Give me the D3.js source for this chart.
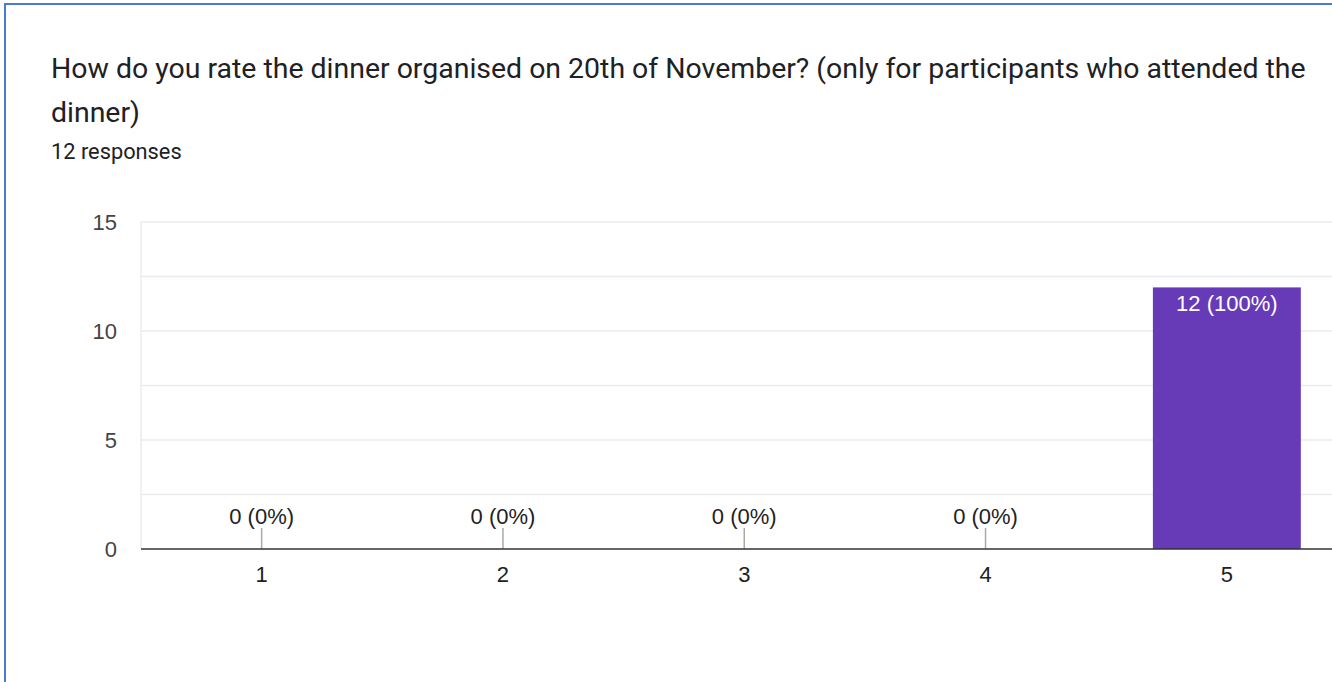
<!DOCTYPE html>
<html>
<head>
<meta charset="utf-8">
<script src="https://cdn.jsdelivr.net/npm/d3@7"></script>
<style>
  body { margin: 0; background: #fff; }
  svg { display: block; }
</style>
</head>
<body>
<div id="chart"></div>
<script>
const titleLines = [
  "How do you rate the dinner organised on 20th of November? (only for participants who attended the",
  "dinner)"
];
const subtitle = "12 responses";

const categories = ["1", "2", "3", "4", "5"];
const counts = [0, 0, 0, 0, 12];
const yTicks = [0, 5, 10, 15];
const gridValues = [2.5, 5, 7.5, 10, 12.5, 15];

const total = d3.sum(counts);
const data = categories.map((c, i) => ({ cat: c, value: counts[i] }));

const W = 1332, H = 682;
const margin = { top: 222, left: 141, bottom: 133 };
const width = 241.3 * 5,
  height = H - margin.top - margin.bottom;

const svg = d3.select("#chart").append("svg")
  .attr("width", W)
  .attr("height", H);

// card border
svg.append("rect")
  .attr("x", 5).attr("y", 4)
  .attr("width", W + 20).attr("height", H + 20)
  .attr("fill", "none")
  .attr("stroke", "#4a7bd0")
  .attr("stroke-width", 2);

// title
svg.append("g")
  .selectAll("text")
  .data(titleLines)
  .enter()
  .append("text")
  .attr("x", 51)
  .attr("y", (d, i) => 78 + i * 44)
  .attr("font-family", "Roboto")
  .attr("font-size", 28.45)
  .attr("fill", "#202124")
  .text(d => d);

svg.append("text")
  .attr("x", 51).attr("y", 159)
  .attr("font-family", "Roboto")
  .attr("font-size", 21.8)
  .attr("fill", "#202124")
  .text(subtitle);

const g = svg.append("g")
  .attr("transform", "translate(" + margin.left + "," + margin.top + ")");

const x = d3.scaleBand().domain(categories).range([0, width]).paddingInner(0.387).paddingOuter(0.1935);
const y = d3.scaleLinear().domain([0, 15]).range([height, 0]);

// gridlines
g.selectAll(".grid")
  .data(gridValues)
  .enter()
  .append("line")
  .attr("x1", 0).attr("x2", width)
  .attr("y1", d => y(d)).attr("y2", d => y(d))
  .attr("stroke", "#ebebeb")
  .attr("stroke-width", 1.5);

g.append("line")
  .attr("x1", 0).attr("x2", 0)
  .attr("y1", 0).attr("y2", height)
  .attr("stroke", "#ebebeb")
  .attr("stroke-width", 1.5);

// y axis labels
const yAxis = g.append("g")
  .call(d3.axisLeft(y).tickValues(yTicks).tickSize(0).tickPadding(24));
yAxis.select(".domain").remove();
yAxis.selectAll("text")
  .attr("font-family", "Arial, Liberation Sans")
  .attr("font-size", 22)
  .attr("fill", "#444");

// bars
g.selectAll(".bar")
  .data(data)
  .enter()
  .append("rect")
  .attr("x", d => x(d.cat))
  .attr("y", d => y(d.value))
  .attr("width", x.bandwidth())
  .attr("height", d => height - y(d.value))
  .attr("fill", "#673ab7");

// zero-value leader ticks
g.selectAll(".lead")
  .data(data.filter(d => d.value === 0))
  .enter()
  .append("line")
  .attr("x1", d => x(d.cat) + x.bandwidth() / 2)
  .attr("x2", d => x(d.cat) + x.bandwidth() / 2)
  .attr("y1", height - 21).attr("y2", height)
  .attr("stroke", "#aaa")
  .attr("stroke-width", 1.5);

// value labels
g.selectAll(".val")
  .data(data)
  .enter()
  .append("text")
  .attr("x", d => x(d.cat) + x.bandwidth() / 2)
  .attr("y", d => d.value === 0 ? height - 25 : y(d.value) + 24)
  .attr("text-anchor", "middle")
  .attr("font-family", "Arial, Liberation Sans")
  .attr("font-size", 22)
  .attr("fill", d => d.value === 0 ? "#222" : "#fff")
  .text(d => d.value + " (" + Math.round(d.value / total * 100) + "%)");

// baseline
g.append("line")
  .attr("x1", 0).attr("x2", width)
  .attr("y1", height).attr("y2", height)
  .attr("stroke", "#333")
  .attr("stroke-width", 1.5);

// x axis labels
const xAxis = g.append("g")
  .attr("transform", "translate(0," + height + ")")
  .call(d3.axisBottom(x).tickSize(0).tickPadding(17));
xAxis.select(".domain").remove();
xAxis.selectAll("text")
  .attr("font-family", "Arial, Liberation Sans")
  .attr("font-size", 22)
  .attr("fill", "#222");
</script>
</body>
</html>
